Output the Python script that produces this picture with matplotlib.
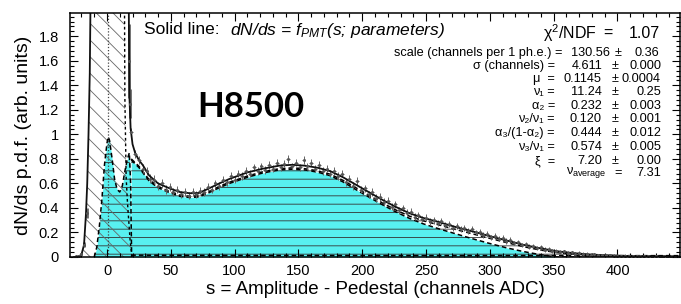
import numpy as np
import matplotlib
matplotlib.use("Agg")
import matplotlib.pyplot as plt
from matplotlib.ticker import MultipleLocator

plt.rcParams['font.family'] = ['Liberation Sans', 'DejaVu Sans']
plt.rcParams['mathtext.fontset'] = 'custom'
plt.rcParams['mathtext.rm'] = 'Liberation Sans'
plt.rcParams['mathtext.it'] = 'Liberation Sans:italic'
plt.rcParams['mathtext.bf'] = 'Liberation Sans:bold'
plt.rcParams['hatch.linewidth'] = 0.6

# total fit (solid line)
fit_x = [-24, -22, -20, -18, -16.5, -15.5, -14.5, -13.5, -13, -12.5,
         16.8, 17.2, 17.6, 18.5, 20, 22, 25, 28, 33, 40,
         49, 57, 65, 72, 80, 88, 96, 110, 122, 135,
         145, 155, 165, 175, 185, 195, 205, 216, 226, 237,
         248, 260, 273, 286, 300, 313, 326, 339, 352, 365,
         378, 391, 410, 430, 449]
fit_y = [0.0, 0.005, 0.02, 0.1, 0.35, 0.6, 1.0, 1.5, 2.0, 2.6,
         2.6, 1.8, 1.3, 1.05, 0.92, 0.85, 0.79, 0.75, 0.665, 0.60,
         0.56, 0.53, 0.52, 0.522, 0.56, 0.60, 0.637, 0.69, 0.72, 0.745,
         0.752, 0.745, 0.728, 0.70, 0.65, 0.59, 0.53, 0.465, 0.41, 0.357,
         0.318, 0.285, 0.245, 0.21, 0.17, 0.135, 0.10, 0.072, 0.048, 0.032,
         0.021, 0.014, 0.008, 0.004, 0.002]

# pedestal component (hatched)
ped_x = [-24, -22, -20, -18, -16.5, -15.5, -14.5, -13.5, -13, -12.5,
         13.5, 14, 15, 16, 17, 18, 19.5]
ped_y = [0, 0.005, 0.02, 0.1, 0.35, 0.6, 1.0, 1.5, 2.0, 2.6,
         2.6, 1.3, 0.65, 0.45, 0.3, 0.15, 0]

# under-amplified component near pedestal (cyan, dashed outline)
hump_x = [-10, -8, -6, -4, -2, 0, 1, 2, 4, 6, 8, 10, 12, 14, 16, 17.5, 18.5, 19.3]
hump_y = [0, 0.08, 0.25, 0.47, 0.75, 0.93, 0.98, 0.95, 0.8, 0.63, 0.55, 0.53,
          0.58, 0.7, 0.8, 0.85, 0.6, 0]

# photoelectron components
comp_x = [19, 25, 33, 40, 49, 57, 65, 72, 80, 88, 96, 110, 122, 135, 145, 155,
          165, 175, 185, 195, 205, 216, 226, 237, 248, 260, 273, 286, 300, 313,
          326, 339, 352, 365, 378, 391, 410, 430, 449]
one_pe = [0.79, 0.73, 0.62, 0.565, 0.525, 0.495, 0.485, 0.49, 0.525, 0.565,
          0.60, 0.65, 0.685, 0.71, 0.716, 0.71, 0.692, 0.663, 0.612, 0.55,
          0.49, 0.425, 0.37, 0.315, 0.27, 0.23, 0.19, 0.15, 0.11, 0.075,
          0.045, 0.02, 0.0, 0, 0, 0, 0, 0, 0]
multi_pe = [0.80, 0.74, 0.63, 0.575, 0.535, 0.505, 0.495, 0.50, 0.535, 0.575,
            0.61, 0.66, 0.695, 0.72, 0.727, 0.72, 0.703, 0.675, 0.625, 0.565,
            0.505, 0.44, 0.385, 0.333, 0.295, 0.262, 0.225, 0.19, 0.152, 0.118,
            0.085, 0.058, 0.037, 0.024, 0.016, 0.012, 0.009, 0.007, 0.006]
bg_x = [19, 100, 200, 300, 400, 449]
bg_y = [0.015, 0.013, 0.012, 0.012, 0.011, 0.011]

# measured spectrum
meas_x = np.arange(19, 449, 3)
meas_y = [1.02, 0.84, 0.79, 0.72, 0.70, 0.64, 0.63, 0.58, 0.60, 0.55,
          0.57, 0.53, 0.55, 0.51, 0.53, 0.50, 0.53, 0.51, 0.54, 0.53,
          0.57, 0.55, 0.60, 0.58, 0.63, 0.61, 0.66, 0.63, 0.68, 0.66,
          0.70, 0.68, 0.73, 0.70, 0.74, 0.71, 0.75, 0.72, 0.77, 0.73,
          0.76, 0.80, 0.74, 0.77, 0.73, 0.79, 0.74, 0.77, 0.72, 0.75,
          0.70, 0.72, 0.68, 0.70, 0.66, 0.68, 0.61, 0.64, 0.58, 0.62,
          0.55, 0.56, 0.51, 0.53, 0.48, 0.49, 0.45, 0.46, 0.41, 0.43,
          0.38, 0.40, 0.36, 0.37, 0.33, 0.34, 0.31, 0.32, 0.29, 0.30,
          0.28, 0.29, 0.26, 0.27, 0.24, 0.255, 0.23, 0.235, 0.21, 0.225,
          0.20, 0.205, 0.18, 0.19, 0.16, 0.17, 0.15, 0.155, 0.13, 0.14,
          0.115, 0.12, 0.10, 0.105, 0.085, 0.09, 0.072, 0.078, 0.06, 0.064,
          0.05, 0.053, 0.04, 0.045, 0.034, 0.037, 0.028, 0.031, 0.024, 0.026,
          0.019, 0.022, 0.016, 0.018, 0.013, 0.015, 0.011, 0.012, 0.009, 0.011,
          0.008, 0.009, 0.006, 0.008, 0.005, 0.006, 0.004, 0.005, 0.003, 0.004,
          0.003, 0.003, 0.002, 0.002]
row_err = [0.035, 0.03, 0.03, 0.03, 0.03, 0.03, 0.03, 0.028, 0.025, 0.022,
           0.018, 0.014, 0.01, 0.007, 0.005]
meas_err = np.repeat(row_err, 10)[:len(meas_y)]
edge_x = [-26, -24, -22, -20, -18, -16, 16, 17, 18]
edge_y = [0.003, 0.005, 0.01, 0.025, 0.1, 0.36, 2.6, 1.6, 1.25]
edge_err = [0.003, 0.004, 0.006, 0.01, 0.02, 0.04, 0.3, 0.3, 0.12]

y_ticks = [0, 0.2, 0.4, 0.6, 0.8, 1.0, 1.2, 1.4, 1.6, 1.8]
y_ticklabels = ["0", "0.2", "0.4", "0.6", "0.8", "1", "1.2", "1.4", "1.6", "1.8"]

stat_labels = ["scale (channels per 1 ph.e.) =", "σ (channels) =", "μ  =",
               "ν₁ =", "α₂ =", "ν₂/ν₁ =", "α₃/(1-α₂) =", "ν₃/ν₁ =", "ξ  ="]
stat_values = ["130.56", "4.611", "0.1145", "11.24", "0.232", "0.120",
               "0.444", "0.574", "7.20"]
stat_errors = ["0.36", "0.000", "0.0004", "0.25", "0.003", "0.001",
               "0.012", "0.005", "0.00"]
stat_rows = [53, 66, 79, 92, 106, 119, 133, 147, 161]

W, H = 681, 304
fig = plt.figure(figsize=(W / 100, H / 100), dpi=100)
ax = fig.add_axes([70 / W, 1 - 257 / H, 610 / W, 244 / H])

cyan = '#58f0f0'
ax.fill_between(hump_x, hump_y, color=cyan, lw=0)
ax.fill_between(comp_x, one_pe, color=cyan, lw=0)
ax.fill_between(comp_x, multi_pe, facecolor='none', edgecolor='#333333',
                hatch='--', lw=0)
ax.fill_between(hump_x, hump_y, facecolor='none', edgecolor='#333333',
                hatch='--', lw=0)
ax.fill_between(ped_x, ped_y, facecolor='none', edgecolor='#666666',
                hatch='\\\\', lw=0)

ax.plot(hump_x, hump_y, color='black', ls=(0, (3, 2)), lw=1.1)
ax.plot(comp_x, one_pe, color='black', ls=(0, (3, 2)), lw=1.1)
ax.plot(comp_x, multi_pe, color='black', ls=(0, (3, 2)), lw=1.1)
ax.plot(bg_x, bg_y, color='black', ls=(0, (3, 2)), lw=1.1)
ax.plot(ped_x[10:], ped_y[10:], color='black', ls=(0, (2, 2)), lw=1.0)
ax.axvline(0.8, color='#444444', ls=(0, (1, 1.5)), lw=0.9)

ax.errorbar(meas_x, meas_y, yerr=meas_err, xerr=1.5, fmt='o', ms=1.2,
            color='#555555', ecolor='#666666', elinewidth=0.7, capsize=0)
ax.errorbar(edge_x, edge_y, yerr=edge_err, xerr=0.5, fmt='o', ms=1.2,
            color='#555555', ecolor='#666666', elinewidth=2.0, capsize=0)

ax.plot(fit_x, fit_y, color='#111111', lw=1.3)

ax.set_xlim(-29, 449)
ax.set_ylim(0, 1.99)
ax.xaxis.set_major_locator(MultipleLocator(50))
ax.xaxis.set_minor_locator(MultipleLocator(10))
ax.set_yticks(y_ticks, y_ticklabels)
ax.yaxis.set_minor_locator(MultipleLocator(0.04))
ax.tick_params(which='both', direction='in', top=True, right=True, width=0.8,
               labelsize=10.5)
ax.tick_params(which='major', length=6)
ax.tick_params(which='minor', length=3)
ax.tick_params(axis='x', pad=5)
ax.tick_params(axis='y', pad=8)
for sp in ax.spines.values():
    sp.set_linewidth(1.1)

ax.set_xlabel("s = Amplitude - Pedestal (channels ADC)", fontsize=13.5)
ax.set_ylabel("dN/ds p.d.f. (arb. units)", fontsize=14)
ax.xaxis.set_label_coords(0.5, -0.1)
ax.yaxis.set_label_coords(-0.062, 0.5)


def fx(px):
    return px / W


def fy(py):
    return 1 - py / H


fig.text(fx(144), fy(30), "Solid line:", fontsize=12.5, va='center')
fig.text(fx(230), fy(30), r"dN/ds = f$_{\mathit{PMT}}$(s; parameters)",
         fontsize=12.5, style='italic', va='center')
fig.text(fx(251), fy(107), "H8500", fontsize=25, fontweight='bold',
         family='Lato', ha='center', va='center')

fig.text(fx(597), fy(33), "χ$^2$/NDF", fontsize=11.5, ha='right', va='center')
fig.text(fx(608), fy(33), "=", fontsize=11.5, ha='center', va='center')
fig.text(fx(660), fy(33), "1.07", fontsize=11.5, ha='right', va='center')

fs = 9.2
for i, lab in enumerate(stat_labels):
    y = fy(stat_rows[i])
    if i == 0:
        cols = (562, 610, 618, 659)
    else:
        cols = (555, 602, 615, 661)
    fig.text(fx(cols[0]), y, lab, fontsize=fs, ha='right', va='center')
    fig.text(fx(cols[1]), y, stat_values[i], fontsize=fs, ha='right', va='center')
    fig.text(fx(cols[2]), y, "±", fontsize=fs, ha='center', va='center')
    fig.text(fx(cols[3]), y, stat_errors[i], fontsize=fs, ha='right', va='center')

fig.text(fx(606), fy(173), r"ν$_{\mathrm{average}}$", fontsize=fs, ha='right',
         va='center')
fig.text(fx(618), fy(173), "=", fontsize=fs, ha='center', va='center')
fig.text(fx(661), fy(173), "7.31", fontsize=fs, ha='right', va='center')

fig.savefig("out.png", dpi=100)
